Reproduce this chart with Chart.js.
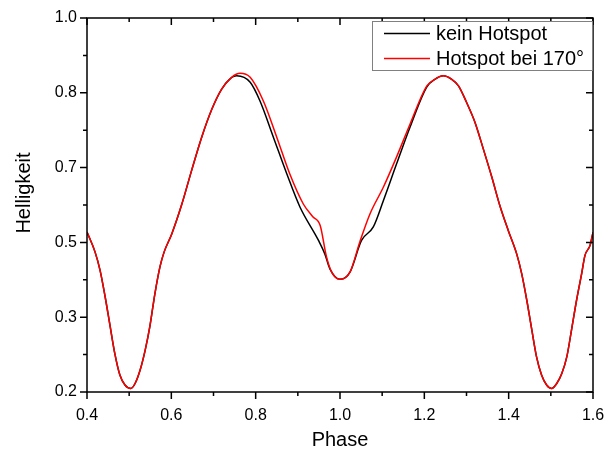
<!DOCTYPE html>
<html>
<head>
<meta charset="utf-8">
<script src="https://cdn.jsdelivr.net/npm/chart.js@4/dist/chart.umd.min.js"></script>
<style>
  html, body { margin: 0; padding: 0; background: #ffffff; }
  #wrap { width: 605px; height: 450px; }
</style>
</head>
<body>
<div id="wrap"><canvas id="c" width="605" height="450"></canvas></div>
<script>
// ---- data ----
const seriesNames = ['kein Hotspot', 'Hotspot bei 170°'];
const xTitle = 'Phase';
const yTitle = 'Helligkeit';

const xTickValues = [0.4, 0.6, 0.8, 1.0, 1.2, 1.4, 1.6];
const xMinorValues = [0.5, 0.7, 0.9, 1.1, 1.3, 1.5];
const yTickValues = [0.2, 0.35, 0.5, 0.65, 0.8, 0.95];
const yTickLabels = ['0.2', '0.3', '0.5', '0.7', '0.8', '1.0'];
const yMinorValues = [0.275, 0.425, 0.575, 0.725, 0.875];

// red: Hotspot bei 170°
const phaseHot = [0.400,0.419,0.431,0.443,0.455,0.466,0.478,0.490,0.504,0.514,0.526,0.538,0.549,0.561,0.573,0.583,0.601,0.625,0.648,0.672,0.696,0.719,0.743,0.763,0.787,0.818,0.850,0.881,0.913,0.935,0.953,0.968,0.980,1.000,1.024,1.047,1.071,1.103,1.134,1.166,1.206,1.225,1.245,1.265,1.281,1.300,1.320,1.340,1.360,1.379,1.399,1.419,1.431,1.443,1.455,1.466,1.478,1.490,1.502,1.514,1.526,1.538,1.549,1.561,1.573,1.581,1.593,1.600];
const brightHot = [0.521,0.481,0.444,0.391,0.331,0.277,0.234,0.214,0.207,0.217,0.244,0.284,0.331,0.397,0.451,0.481,0.517,0.577,0.644,0.711,0.767,0.807,0.831,0.839,0.831,0.784,0.711,0.637,0.577,0.552,0.534,0.471,0.441,0.426,0.441,0.501,0.557,0.611,0.671,0.737,0.814,0.827,0.834,0.827,0.814,0.781,0.741,0.687,0.631,0.574,0.524,0.477,0.437,0.384,0.324,0.271,0.234,0.214,0.207,0.217,0.237,0.271,0.324,0.384,0.437,0.474,0.494,0.520];

// black: kein Hotspot
const phaseNo = [0.400,0.419,0.431,0.443,0.455,0.466,0.478,0.490,0.504,0.514,0.526,0.538,0.549,0.561,0.573,0.583,0.601,0.625,0.648,0.672,0.696,0.719,0.738,0.755,0.787,0.810,0.842,0.874,0.905,0.949,0.964,0.976,1.000,1.024,1.051,1.079,1.103,1.134,1.166,1.206,1.225,1.245,1.265,1.281,1.300,1.320,1.340,1.360,1.379,1.399,1.419,1.431,1.443,1.455,1.466,1.478,1.490,1.502,1.514,1.526,1.538,1.549,1.561,1.573,1.581,1.593,1.600];
const brightNo = [0.521,0.481,0.444,0.391,0.331,0.277,0.234,0.214,0.207,0.217,0.244,0.284,0.331,0.397,0.451,0.481,0.517,0.577,0.644,0.711,0.767,0.807,0.827,0.834,0.821,0.784,0.711,0.637,0.571,0.504,0.477,0.447,0.426,0.441,0.504,0.531,0.584,0.657,0.731,0.812,0.827,0.834,0.827,0.814,0.781,0.741,0.687,0.631,0.574,0.524,0.477,0.437,0.384,0.324,0.271,0.234,0.214,0.207,0.217,0.237,0.271,0.324,0.384,0.437,0.474,0.494,0.520];

const toPoints = (xs, ys) => xs.map((x, i) => ({ x: x, y: ys[i] }));

const FONT = '"Liberation Sans", Arial, Helvetica, sans-serif';

const framePlugin = {
  id: 'frame',
  afterDraw(chart) {
    const ctx = chart.ctx;
    const a = chart.chartArea;
    const xs = chart.scales.x, ys = chart.scales.y;
    ctx.save();
    ctx.strokeStyle = '#000';
    ctx.lineWidth = 1.5;
    ctx.strokeRect(a.left, a.top, a.right - a.left, a.bottom - a.top);
    ctx.beginPath();
    const majorLen = 7, minorLen = 4;
    xTickValues.forEach(v => {
      const px = xs.getPixelForValue(v);
      ctx.moveTo(px, a.bottom); ctx.lineTo(px, a.bottom + majorLen);
      ctx.moveTo(px, a.top); ctx.lineTo(px, a.top + majorLen);
    });
    xMinorValues.forEach(v => {
      const px = xs.getPixelForValue(v);
      ctx.moveTo(px, a.bottom); ctx.lineTo(px, a.bottom + minorLen);
      ctx.moveTo(px, a.top); ctx.lineTo(px, a.top + minorLen);
    });
    yTickValues.forEach(v => {
      const py = ys.getPixelForValue(v);
      ctx.moveTo(a.left, py); ctx.lineTo(a.left - majorLen, py);
      ctx.moveTo(a.right, py); ctx.lineTo(a.right - majorLen, py);
    });
    yMinorValues.forEach(v => {
      const py = ys.getPixelForValue(v);
      ctx.moveTo(a.left, py); ctx.lineTo(a.left - minorLen, py);
      ctx.moveTo(a.right, py); ctx.lineTo(a.right - minorLen, py);
    });
    ctx.stroke();

    // y axis title
    ctx.save();
    ctx.translate(24, 193);
    ctx.rotate(-Math.PI / 2);
    ctx.fillStyle = '#000';
    ctx.font = '20px ' + FONT;
    ctx.textAlign = 'center';
    ctx.textBaseline = 'middle';
    ctx.fillText(yTitle, 0, 0);
    ctx.restore();

    // legend box
    const bx = 372, by = 21, bw = 220, bh = 49;
    ctx.fillStyle = '#fff';
    ctx.fillRect(bx, by, bw, bh);
    ctx.strokeStyle = '#808080';
    ctx.lineWidth = 1;
    ctx.strokeRect(bx + 0.5, by + 0.5, bw, bh);
    ctx.font = '20px ' + FONT;
    ctx.textAlign = 'left';
    ctx.textBaseline = 'middle';
    chart.data.datasets.forEach((ds, i) => {
      const ly = 33.5 + i * 25;
      ctx.strokeStyle = ds.borderColor;
      ctx.lineWidth = 1.5;
      ctx.beginPath();
      ctx.moveTo(384, ly); ctx.lineTo(430, ly);
      ctx.stroke();
      ctx.fillStyle = '#000';
      ctx.fillText(ds.label, 436, ly + 1);
    });
    ctx.restore();
  }
};

new Chart(document.getElementById('c'), {
  type: 'line',
  data: {
    datasets: [
      { label: seriesNames[0], order: 2, data: toPoints(phaseNo, brightNo), borderColor: '#000000', borderWidth: 1.5, pointRadius: 0, fill: false, cubicInterpolationMode: 'monotone' },
      { label: seriesNames[1], order: 1, data: toPoints(phaseHot, brightHot), borderColor: '#ff0000', borderWidth: 1.5, pointRadius: 0, fill: false, cubicInterpolationMode: 'monotone' }
    ]
  },
  options: {
    responsive: false,
    animation: false,
    devicePixelRatio: 1,
    layout: { padding: { left: 0, right: 12, top: 18, bottom: 0 } },
    plugins: { legend: { display: false }, tooltip: { enabled: false } },
    scales: {
      x: {
        type: 'linear', min: 0.4, max: 1.6,
        grid: { display: false, drawTicks: false },
        border: { display: false },
        afterBuildTicks: s => { s.ticks = xTickValues.map(v => ({ value: v })); },
        afterFit: s => { s.height = 58; s.paddingLeft = 0; s.paddingRight = 0; },
        ticks: { color: '#000', padding: 14, maxRotation: 0, font: { family: FONT, size: 16 }, callback: v => Number(v).toFixed(1) },
        title: { display: true, text: xTitle, color: '#000', padding: 0, font: { family: FONT, size: 20, lineHeight: 1.0 } }
      },
      y: {
        type: 'linear', min: 0.2, max: 0.95,
        grid: { display: false, drawTicks: false },
        border: { display: false },
        afterBuildTicks: s => { s.ticks = yTickValues.map(v => ({ value: v })); },
        afterFit: s => { s.width = 87; s.paddingTop = 0; s.paddingBottom = 0; },
        ticks: { color: '#000', padding: 10, font: { family: FONT, size: 16 }, callback: (v, i) => yTickLabels[i] },
        title: { display: false }
      }
    }
  },
  plugins: [framePlugin]
});
</script>
</body>
</html>
